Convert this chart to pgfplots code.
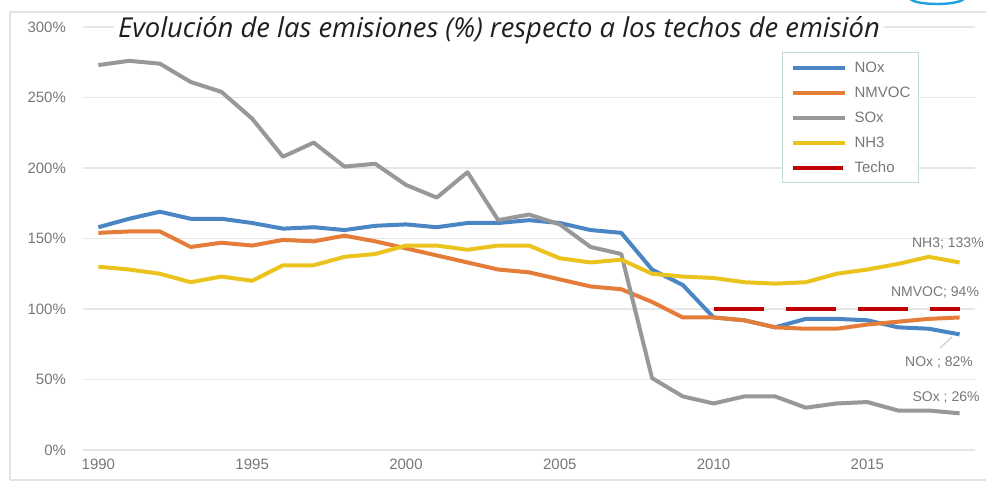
\documentclass[border=0pt]{standalone}
\usepackage{pgfplots}
\pgfplotsset{compat=1.18}
\usepackage{fontspec}
\setmainfont{Liberation Sans}
\newfontfamily\titlefont{Open Sans}
\definecolor{cNOx}{RGB}{74,134,196}
\definecolor{cNMVOC}{RGB}{229,125,58}
\definecolor{cSOx}{RGB}{152,152,152}
\definecolor{cNH3}{RGB}{235,195,30}
\definecolor{cTecho}{RGB}{192,0,0}
\definecolor{cText}{RGB}{120,120,120}
\definecolor{cGrid}{RGB}{230,230,230}
\definecolor{cLeg}{RGB}{196,218,204}
\definecolor{cLogo}{RGB}{30,160,225}
\begin{document}
\begin{tikzpicture}
\useasboundingbox (0,0) rectangle (493pt,241pt);
\fill[white] (0,0) rectangle (493pt,241pt);
\draw[gray!22, line width=0.8pt] (5pt,1pt) -- (5pt,235pt) -- (493pt,235pt);
\draw[gray!22, line width=0.8pt] (5pt,1pt) -- (493pt,1pt);
\draw[cLogo, line width=1.2pt] (455pt,242pt) arc[start angle=180, end angle=360, x radius=13.5pt, y radius=3pt];
\begin{axis}[
  at={(41.5pt,16pt)}, anchor=south west,
  scale only axis, width=446pt, height=211.5pt,
  xmin=1989.5, xmax=2018.5, ymin=0, ymax=300,
  axis line style={draw=none},
  tick style={draw=none},
  ymajorgrids, grid style={cGrid, line width=0.8pt},
  ytick={0,50,...,300},
  yticklabel={\pgfmathprintnumber{\tick}\%},
  yticklabel style={xshift=-5pt},
  xtick={1990,1995,...,2015},
  xticklabel style={yshift=-1pt},
  /pgf/number format/set thousands separator={},
  /pgf/number format/assume math mode=true,
  tick label style={font=\fontsize{7.5}{9}\selectfont, text=cText},
  clip=false,
  legend style={at={(0.7836,0.941)}, anchor=north west, draw=cLeg, line width=0.6pt, fill=white,
    inner sep=4pt, row sep=5.5pt, font=\fontsize{7.5}{9}\selectfont, text=cText,
    nodes={inner sep=0pt, text height=6pt, text depth=1pt},
    /tikz/every odd column/.append style={column sep=4pt}},
  legend cell align=left,
  legend image code/.code={\draw[#1] (0pt,0pt) -- (26pt,0pt);},
  every axis plot/.append style={line width=2pt, line join=round},
]
\addplot[cNOx] coordinates {
(1990,158)(1991,164)(1992,169)(1993,164)(1994,164)(1995,161)(1996,157)(1997,158)(1998,156)(1999,159)
(2000,160)(2001,158)(2002,161)(2003,161)(2004,163)(2005,161)(2006,156)(2007,154)(2008,128)(2009,117)
(2010,94)(2011,92)(2012,87)(2013,93)(2014,93)(2015,92)(2016,87)(2017,86)(2018,82)};
\addlegendentry{NOx}
\addplot[cNMVOC] coordinates {
(1990,154)(1991,155)(1992,155)(1993,144)(1994,147)(1995,145)(1996,149)(1997,148)(1998,152)(1999,148)
(2000,143)(2001,138)(2002,133)(2003,128)(2004,126)(2005,121)(2006,116)(2007,114)(2008,105)(2009,94)
(2010,94)(2011,92)(2012,87)(2013,86)(2014,86)(2015,89)(2016,91)(2017,93)(2018,94)};
\addlegendentry{NMVOC}
\addplot[cSOx] coordinates {
(1990,273)(1991,276)(1992,274)(1993,261)(1994,254)(1995,235)(1996,208)(1997,218)(1998,201)(1999,203)
(2000,188)(2001,179)(2002,197)(2003,163)(2004,167)(2005,160)(2006,144)(2007,139)(2008,51)(2009,38)
(2010,33)(2011,38)(2012,38)(2013,30)(2014,33)(2015,34)(2016,28)(2017,28)(2018,26)};
\addlegendentry{SOx}
\addplot[cNH3] coordinates {
(1990,130)(1991,128)(1992,125)(1993,119)(1994,123)(1995,120)(1996,131)(1997,131)(1998,137)(1999,139)
(2000,145)(2001,145)(2002,142)(2003,145)(2004,145)(2005,136)(2006,133)(2007,135)(2008,125)(2009,123)
(2010,122)(2011,119)(2012,118)(2013,119)(2014,125)(2015,128)(2016,132)(2017,137)(2018,133)};
\addlegendentry{NH3}
\addplot[cTecho, line cap=butt, dash pattern=on 25pt off 11pt] coordinates {(2010,100)(2018,100)};
\addlegendentry{Techo}
\node[font=\fontsize{7}{8}\selectfont, text=cText] at (axis cs:2017.62,146.8) {NH3; 133\%};
\node[font=\fontsize{7}{8}\selectfont, text=cText] at (axis cs:2017.2,112) {NMVOC; 94\%};
\node[font=\fontsize{7}{8}\selectfont, text=cText] at (axis cs:2017.33,62.4) {NOx ; 82\%};
\node[font=\fontsize{7}{8}\selectfont, text=cText] at (axis cs:2017.56,36.9) {SOx ; 26\%};
\draw[gray!45, line width=0.5pt] (axis cs:2017.36,72.3) -- (axis cs:2017.75,80.1);
\end{axis}
\node[fill=white, inner sep=2pt, anchor=base, font=\titlefont\itshape\fontsize{13.7}{16}\selectfont, text=black!88] at (249.5pt,222pt) {Evolución de las emisiones (\%) respecto a los techos de emisión};
\end{tikzpicture}
\end{document}
